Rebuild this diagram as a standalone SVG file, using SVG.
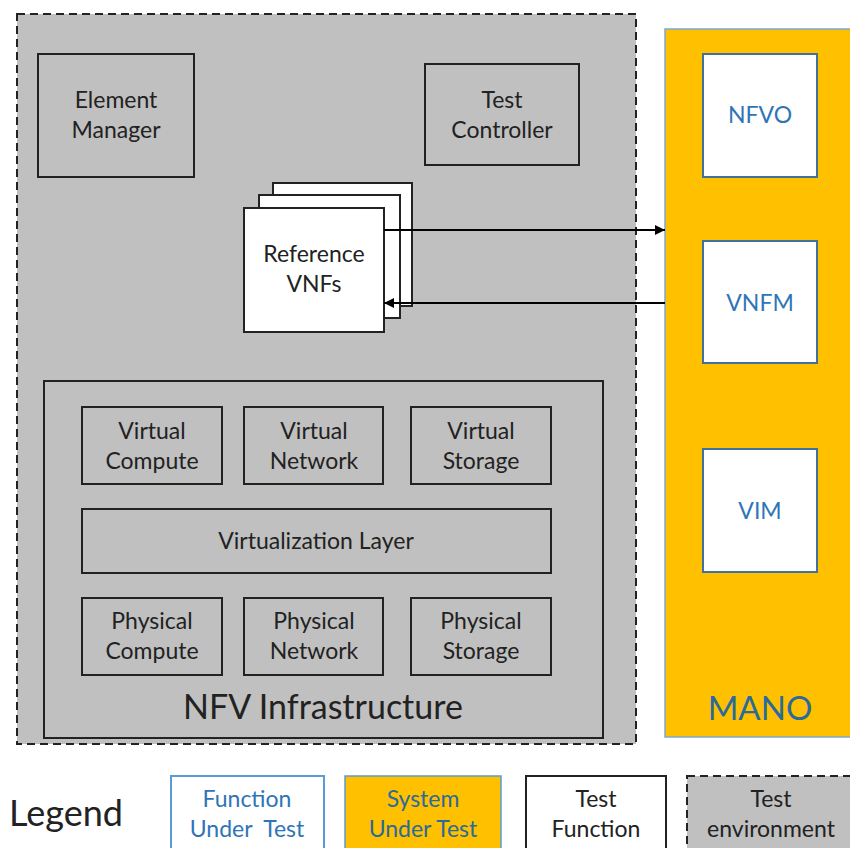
<svg xmlns="http://www.w3.org/2000/svg" width="850" height="848" viewBox="0 0 850 848">
<defs>
<marker id="ah" viewBox="0 0 10 10" refX="10" refY="5" markerWidth="10" markerHeight="10" markerUnits="userSpaceOnUse" orient="auto">
<path d="M0,0 L10,5 L0,10 Z" fill="#000"/>
</marker>
</defs>
<style>
text{font-family:Lato,"Open Sans","Liberation Sans",sans-serif;text-anchor:middle;fill:#222}
.box{fill:#c0c0c0;stroke:#222;stroke-width:2}
.white{fill:#fff;stroke:#222;stroke-width:2}
.env{fill:#c0c0c0;stroke:#222;stroke-width:2;stroke-dasharray:8,5}
.fut{fill:#fff;stroke:#41719c;stroke-width:2}
.sut{fill:#ffc000;stroke:#7fa7d0;stroke-width:1.5}
.t21{font-size:23px}
.blue{fill:#2e75b6}
.big{font-size:34px}
.conn{stroke:#000;stroke-width:2;fill:none}
</style>
<rect width="850" height="848" fill="#fff"/>
<g id="test-environment">
<rect class="env" x="17" y="14" width="619" height="730"/>
</g>
<g id="mano">
<rect class="sut" x="665" y="29" width="190" height="708"/>
<text class="big blue" x="760" y="720" style="fill:#2a6a9c;font-size:33px">MANO</text>
</g>
<g id="element-manager">
<rect class="box" x="38" y="54" width="156" height="123"/>
<text class="t21" x="116" y="108">Element</text>
<text class="t21" x="116" y="138">Manager</text>
</g>
<g id="test-controller">
<rect class="box" x="425" y="64" width="154" height="101"/>
<text class="t21" x="502" y="108">Test</text>
<text class="t21" x="502" y="138">Controller</text>
</g>
<g id="reference-vnfs">
<rect class="white" x="273" y="183" width="139" height="123"/>
<rect class="white" x="259" y="195" width="141" height="123"/>
<rect class="white" x="244" y="208" width="140" height="124"/>
<text class="t21" x="314" y="262">Reference</text>
<text class="t21" x="314" y="292">VNFs</text>
</g>
<g id="nfvo">
<rect class="fut" x="703" y="54" width="114" height="123"/>
<text class="t21 blue" x="760" y="123">NFVO</text>
</g>
<g id="vnfm">
<rect class="fut" x="703" y="241" width="114" height="122"/>
<text class="t21 blue" x="760" y="311">VNFM</text>
</g>
<g id="vim">
<rect class="fut" x="703" y="449" width="114" height="123"/>
<text class="t21 blue" x="760" y="519">VIM</text>
</g>
<g id="nfv-infrastructure">
<rect class="box" x="44" y="381" width="559" height="357"/>
<text class="big" x="323" y="719">NFV Infrastructure</text>
</g>
<g id="virtual-compute">
<rect class="box" x="82" y="407" width="140" height="77"/>
<text class="t21" x="152" y="439">Virtual</text>
<text class="t21" x="152" y="469">Compute</text>
</g>
<g id="virtual-network">
<rect class="box" x="244" y="407" width="139" height="77"/>
<text class="t21" x="314" y="439">Virtual</text>
<text class="t21" x="314" y="469">Network</text>
</g>
<g id="virtual-storage">
<rect class="box" x="411" y="407" width="140" height="77"/>
<text class="t21" x="481" y="439">Virtual</text>
<text class="t21" x="481" y="469">Storage</text>
</g>
<g id="virtualization-layer">
<rect class="box" x="82" y="509" width="469" height="64"/>
<text class="t21" x="316" y="549">Virtualization Layer</text>
</g>
<g id="physical-compute">
<rect class="box" x="82" y="598" width="140" height="77"/>
<text class="t21" x="152" y="629">Physical</text>
<text class="t21" x="152" y="659">Compute</text>
</g>
<g id="physical-network">
<rect class="box" x="244" y="598" width="139" height="77"/>
<text class="t21" x="314" y="629">Physical</text>
<text class="t21" x="314" y="659">Network</text>
</g>
<g id="physical-storage">
<rect class="box" x="411" y="598" width="140" height="77"/>
<text class="t21" x="481" y="629">Physical</text>
<text class="t21" x="481" y="659">Storage</text>
</g>
<g id="connectors">
<line class="conn" x1="384" y1="230" x2="665" y2="230" marker-end="url(#ah)"/>
<line class="conn" x1="665" y1="303" x2="384" y2="303" marker-end="url(#ah)"/>
</g>
<g id="legend">
<text class="big" x="66" y="826" style="font-size:36px">Legend</text>
<g id="legend-fut">
<rect class="fut" x="171" y="776" width="153" height="80" style="stroke:#5b9bd5"/>
<text class="t21 blue" x="247" y="807">Function</text>
<text class="t21 blue" x="247" y="837" xml:space="preserve">Under  Test</text>
</g>
<g id="legend-sut">
<rect class="sut" x="345" y="776" width="156" height="80" style="stroke:#5b9bd5"/>
<text class="t21" x="423" y="807" style="fill:#2a6a9c">System</text>
<text class="t21" x="423" y="837" style="fill:#2a6a9c">Under Test</text>
</g>
<g id="legend-tf">
<rect class="white" x="526" y="776" width="140" height="80"/>
<text class="t21" x="596" y="807">Test</text>
<text class="t21" x="596" y="837">Function</text>
</g>
<g id="legend-te">
<rect class="env" x="687" y="776" width="175" height="80"/>
<text class="t21" x="771" y="807">Test</text>
<text class="t21" x="771" y="837">environment</text>
</g>
</g>
</svg>
